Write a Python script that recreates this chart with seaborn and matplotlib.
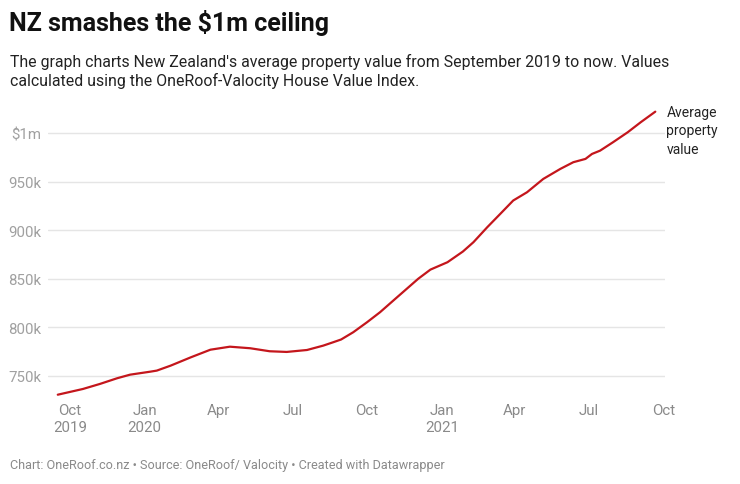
import pandas as pd
import seaborn as sns
import matplotlib.pyplot as plt

# Average property value (thousands NZD)
dates = [
    "2019-09-16", "2019-10-17", "2019-11-07", "2019-11-28", "2019-12-14",
    "2020-01-08", "2020-01-16", "2020-02-02", "2020-02-27", "2020-03-22",
    "2020-04-15", "2020-05-10", "2020-06-03", "2020-06-24", "2020-07-19",
    "2020-08-08", "2020-08-20", "2020-08-30", "2020-09-14", "2020-10-01",
    "2020-10-17", "2020-11-07", "2020-12-03", "2020-12-18", "2021-01-08",
    "2021-01-27", "2021-02-09", "2021-02-26", "2021-03-14", "2021-03-30",
    "2021-04-16", "2021-05-06", "2021-05-27", "2021-06-12", "2021-06-27",
    "2021-07-05", "2021-07-15", "2021-07-31", "2021-08-18", "2021-09-03",
    "2021-09-21",
]
values = [
    730.7, 736.6, 741.8, 747.6, 751.3,
    754.4, 755.5, 760.6, 769.2, 777.0,
    780.1, 778.5, 775.4, 774.7, 776.7,
    781.2, 784.6, 787.5, 795.0, 805.3,
    815.6, 831.0, 850.0, 859.4, 867.0,
    878.0, 887.6, 903.0, 916.7, 930.5,
    939.0, 952.7, 963.0, 969.9, 973.3,
    978.4, 981.8, 990.5, 1000.7, 1011.0,
    1021.9,
]

tick_dates = ["2019-10-01", "2020-01-01", "2020-04-01", "2020-07-01", "2020-10-01",
              "2021-01-01", "2021-04-01", "2021-07-01", "2021-10-01"]
tick_labels = ["Oct\n2019", "Jan\n2020", "Apr", "Jul", "Oct",
               "Jan\n2021", "Apr", "Jul", "Oct"]
y_ticks = [750, 800, 850, 900, 950, 1000]
y_labels = ["750k", "800k", "850k", "900k", "950k", "$1m"]

df = pd.DataFrame({"date": pd.to_datetime(dates), "value": values})

sns.set_theme(style="white")
plt.rcParams["font.family"] = ["Roboto", "DejaVu Sans"]

fig = plt.figure(figsize=(7.4, 4.85), dpi=100)
ax = fig.add_axes([0.0649, 0.1753, 0.8338, 0.598])

sns.lineplot(data=df, x="date", y="value", ax=ax, color="#c4161c", linewidth=1.6)

ax.set_xlim(pd.Timestamp("2019-09-04"), pd.Timestamp("2021-10-03"))
ax.set_ylim(726.3, 1024.7)

ax.set_yticks(y_ticks)
ax.set_yticklabels(y_labels)
ax.set_xticks(pd.to_datetime(tick_dates))
ax.set_xticklabels(tick_labels, linespacing=1.3)

ax.tick_params(axis="y", length=0, pad=5, labelsize=10.8, labelcolor="#a0a0a0")
ax.tick_params(axis="x", length=0, pad=3, labelsize=10.8, labelcolor="#8a8a8a")
ax.grid(axis="y", color="#e5e5e5", linewidth=1)
ax.grid(axis="x", visible=False)
for s in ax.spines.values():
    s.set_visible(False)
ax.set_xlabel("")
ax.set_ylabel("")

ax.annotate("Average\nproperty\nvalue", xy=(df["date"].iloc[-1], df["value"].iloc[-1]),
            xytext=(8, 5), textcoords="offset points", ha="left", va="top",
            fontsize=10, color="#222222", linespacing=1.4, annotation_clip=False)

fig.text(9 / 740, 1 - 23 / 485, "NZ smashes the $1m ceiling", fontsize=18,
         fontweight="bold", color="#111111", va="center", ha="left")
fig.text(10 / 740, 1 - 54 / 485,
         "The graph charts New Zealand's average property value from September 2019 to now. Values\n"
         "calculated using the OneRoof-Valocity House Value Index.",
         fontsize=11.4, color="#222222", va="top", ha="left", linespacing=1.25)
fig.text(10 / 740, 1 - 466 / 485,
         "Chart: OneRoof.co.nz \u2022 Source: OneRoof/ Valocity \u2022 Created with Datawrapper",
         fontsize=9.1, color="#8a8a8a", va="center", ha="left")

fig.savefig("out.png", dpi=100, facecolor="white")
plt.close(fig)
